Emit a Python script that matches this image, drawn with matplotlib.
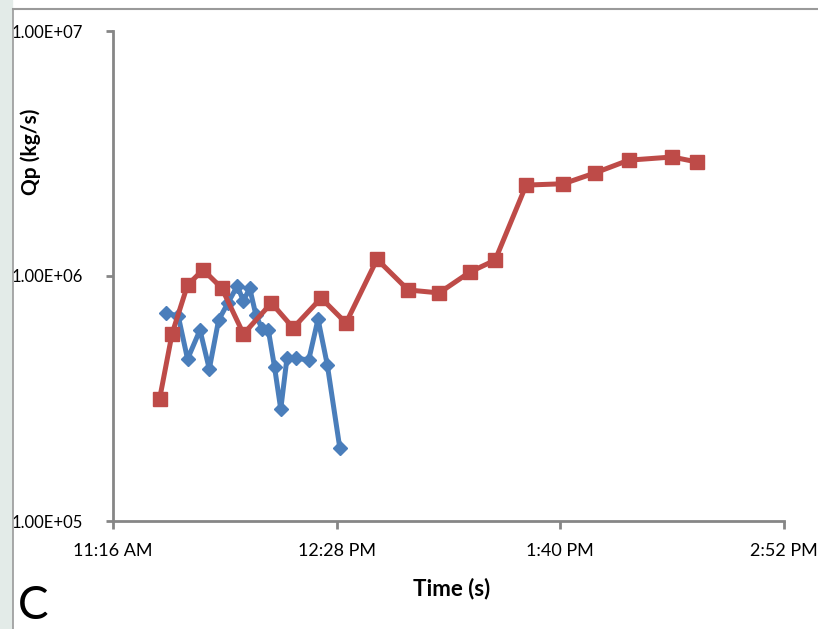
import datetime as dt
import matplotlib
matplotlib.use("Agg")
import matplotlib.pyplot as plt
import matplotlib.dates as mdates
from matplotlib.patches import Rectangle
from matplotlib.lines import Line2D

# blue series (diamonds)
blue_times = ["11:33", "11:37", "11:40", "11:44", "11:47", "11:50", "11:53",
              "11:56", "11:58", "12:00", "12:02", "12:04", "12:06", "12:08",
              "12:10", "12:12", "12:15", "12:19", "12:22", "12:25", "12:29"]
blue_qp = [7.06e5, 6.87e5, 4.58e5, 6.02e5, 4.17e5, 6.61e5, 7.76e5,
           9.10e5, 7.91e5, 8.93e5, 6.93e5, 6.08e5, 6.02e5, 4.25e5,
           2.86e5, 4.62e5, 4.62e5, 4.54e5, 6.67e5, 4.33e5, 1.99e5]

# red series (squares)
red_times = ["11:31", "11:35", "11:40", "11:45", "11:51", "11:58", "12:07",
             "12:14", "12:23", "12:31", "12:41", "12:51", "13:01", "13:11",
             "13:19", "13:29", "13:41", "13:51", "14:02", "14:16", "14:24"]
red_qp = [3.15e5, 5.80e5, 9.19e5, 1.06e6, 8.93e5, 5.80e5, 7.76e5,
          6.14e5, 8.13e5, 6.43e5, 1.17e6, 8.77e5, 8.53e5, 1.04e6,
          1.16e6, 2.35e6, 2.38e6, 2.63e6, 2.97e6, 3.06e6, 2.92e6]

x_ticks = ["11:16", "12:28", "13:40", "14:52"]
y_ticks = [1e5, 1e6, 1e7]


def to_dt(s):
    h, m = s.split(":")
    return dt.datetime(2000, 1, 1, int(h), int(m))


plt.rcParams['font.family'] = ['Lato', 'DejaVu Sans']

fig = plt.figure(figsize=(8.18, 6.29), dpi=100)
ax = fig.add_axes([113 / 818, 1 - 521 / 629, (784 - 113) / 818, (521 - 31) / 629])

ax.plot([to_dt(t) for t in blue_times], blue_qp, color='#4a7ebb', lw=3.6,
        marker='D', markersize=7.5, zorder=3)
ax.plot([to_dt(t) for t in red_times], red_qp, color='#be4b48', lw=3.6,
        marker='s', markersize=10, zorder=4)

ax.set_yscale('log')
ax.set_ylim(1e5, 1e7)
ax.set_yticks(y_ticks)
ax.set_yticklabels(["%.2E" % v for v in y_ticks])
ax.yaxis.set_minor_locator(matplotlib.ticker.NullLocator())
for lab in ax.get_yticklabels():
    lab.set_horizontalalignment('left')
    lab.set_family(['Liberation Sans Narrow', 'Lato'])

ax.set_xlim(to_dt(x_ticks[0]), to_dt(x_ticks[-1]))
ax.set_xticks([to_dt(t) for t in x_ticks])
ax.xaxis.set_major_formatter(
    matplotlib.ticker.FuncFormatter(
        lambda v, p: mdates.num2date(v).strftime("%I:%M %p").lstrip("0")))

for s in ['top', 'right']:
    ax.spines[s].set_visible(False)
for s in ['left', 'bottom']:
    ax.spines[s].set_color('#868686')
    ax.spines[s].set_linewidth(2)

ax.tick_params(axis='y', direction='out', length=5, width=2, color='#868686',
               labelsize=12, pad=68)
ax.tick_params(axis='x', direction='out', length=6, width=2, color='#868686',
               labelsize=13, pad=10)

fig.text(452 / 818, 1 - 589 / 629, "Time (s)", fontsize=16, fontweight='bold',
         ha='center', va='center')
fig.text(31 / 818, 1 - 152 / 629, "Qp (kg/s)", fontsize=15, fontweight='bold',
         rotation=90, ha='center', va='center')
fig.text(18 / 818, 1 - 619 / 629, "C", fontsize=33,
         ha='left', va='baseline')

# page edges
fig.patches.append(Rectangle((0, 0), 12 / 818, 1, transform=fig.transFigure,
                             color='#e3ebe8', zorder=0))
fig.lines.append(Line2D([12.5 / 818, 12.5 / 818], [0, 1 - 9 / 629],
                        transform=fig.transFigure, color='#9a9a9a', lw=1.2))
fig.lines.append(Line2D([12.5 / 818, 1], [1 - 9 / 629, 1 - 9 / 629],
                        transform=fig.transFigure, color='#9a9a9a', lw=1.5))

fig.savefig("out.png", dpi=100)
